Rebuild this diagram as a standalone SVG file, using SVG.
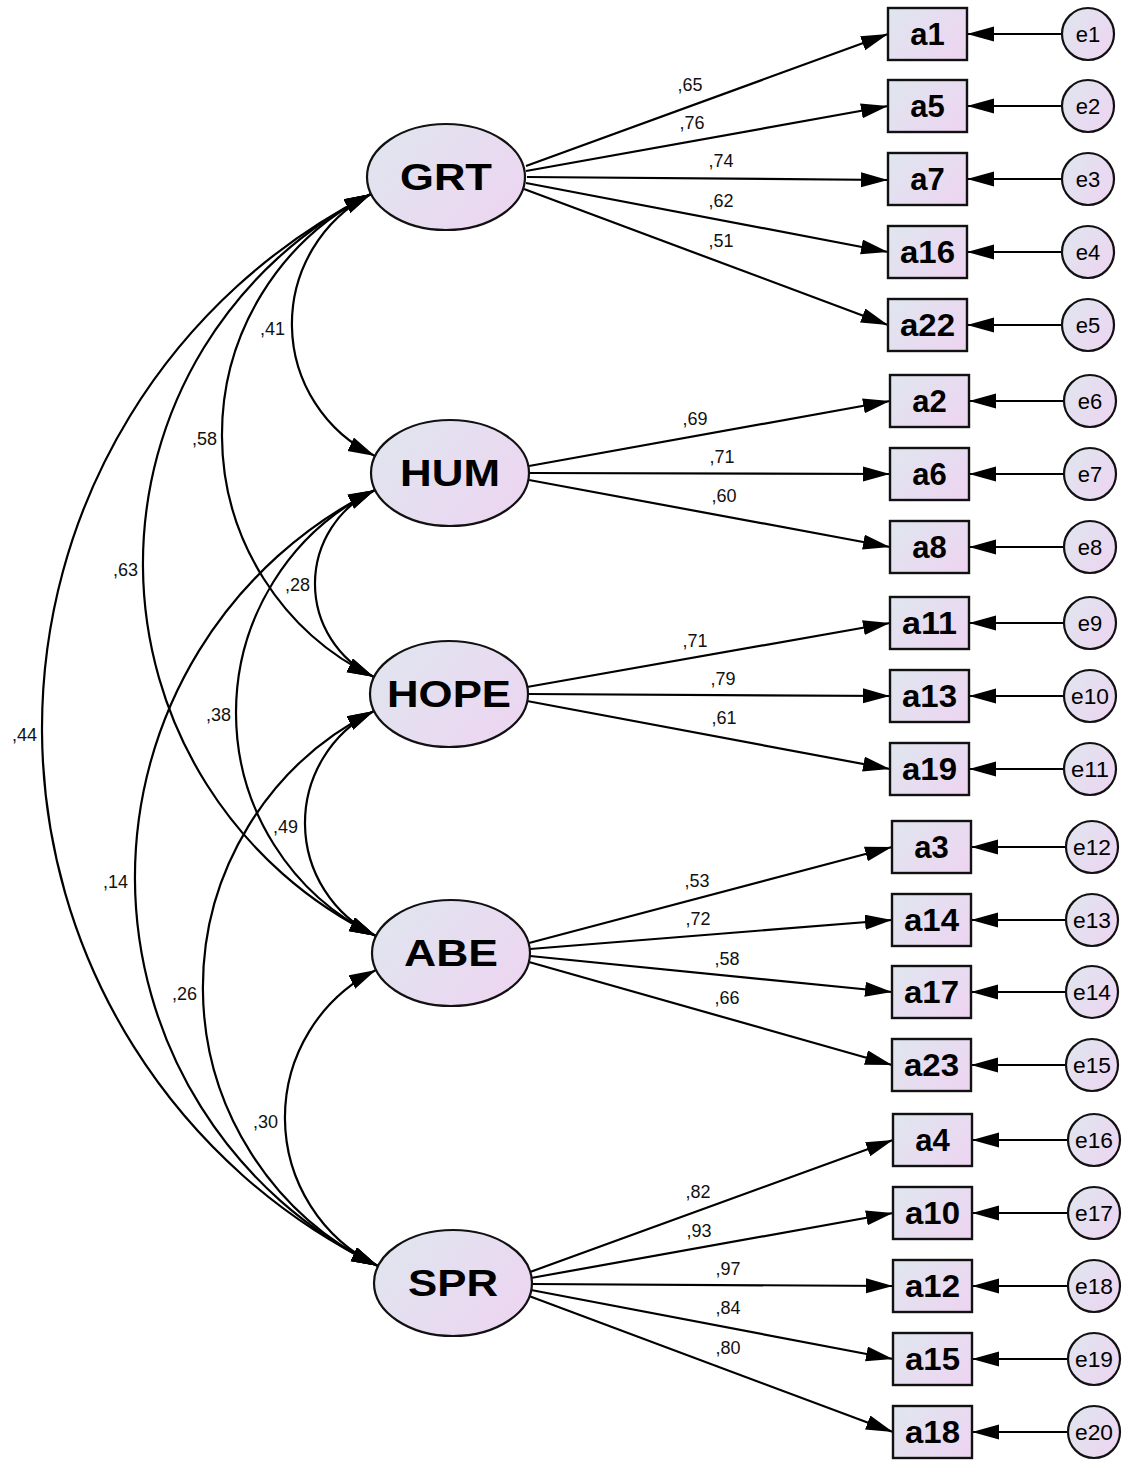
<svg xmlns="http://www.w3.org/2000/svg" width="1127" height="1461" viewBox="0 0 1127 1461">
<defs>
<linearGradient id="fillG" x1="0" y1="0.2" x2="1" y2="0.8">
<stop offset="0" stop-color="#e0e5ef"/>
<stop offset="1" stop-color="#edd5f1"/>
</linearGradient>
<marker id="ah" markerUnits="userSpaceOnUse" markerWidth="30" markerHeight="16" refX="27" refY="7.5" orient="auto-start-reverse">
<path d="M0,0 L27,7.5 L0,15 z" fill="#000"/>
</marker>
</defs>
<style>
.lat{fill:url(#fillG);stroke:#111;stroke-width:2.2}
.obs{fill:url(#fillG);stroke:#111;stroke-width:2.4}
.err{fill:url(#fillG);stroke:#111;stroke-width:2.2}
.lt{font-family:"Liberation Sans",Arial,sans-serif;font-weight:bold;font-size:36px;text-anchor:middle;fill:#000}
.ot{font-family:"Liberation Sans",Arial,sans-serif;font-weight:bold;font-size:31px;text-anchor:middle;fill:#000}
.et{font-family:"Liberation Sans",Arial,sans-serif;font-size:22px;text-anchor:middle;fill:#000}
.cl{font-family:"Liberation Sans",Arial,sans-serif;font-size:18px;fill:#111}
.cm{text-anchor:middle}
.ce{text-anchor:end}
.ln{fill:none;stroke:#000;stroke-width:2.2;marker-end:url(#ah)}
.cv{fill:none;stroke:#000;stroke-width:2.2;marker-start:url(#ah);marker-end:url(#ah)}
</style>
<rect width="1127" height="1461" fill="#fff"/>

<g id="connectors">
<path class="cv" d="M371,194 A146.4,146.4 0 0 0 375,456"/>
<path class="cv" d="M371,194 A269,269 0 0 0 374,677"/>
<path class="cv" d="M371,194 A413.8,413.8 0 0 0 376,936"/>
<path class="cv" d="M371,194 A598.3,598.3 0 0 0 378,1266"/>
<path class="cv" d="M375,490 A103.2,103.2 0 0 0 374,677"/>
<path class="cv" d="M375,490 A248,248 0 0 0 376,936"/>
<path class="cv" d="M375,490 A432.4,432.4 0 0 0 378,1266"/>
<path class="cv" d="M374,711 A125.4,125.4 0 0 0 376,936"/>
<path class="cv" d="M374,711 A309,309 0 0 0 378,1266"/>
<path class="cv" d="M376,970 A165,165 0 0 0 378,1266"/>
<path class="ln" d="M526,166 L888,34"/>
<path class="ln" d="M526,171 L888,106"/>
<path class="ln" d="M527,177 L888,180"/>
<path class="ln" d="M526,183 L888,252"/>
<path class="ln" d="M524,189 L888,325"/>
<path class="ln" d="M529,466 L890,401"/>
<path class="ln" d="M530,473 L890,474"/>
<path class="ln" d="M529,480 L890,547"/>
<path class="ln" d="M527,687 L890,623"/>
<path class="ln" d="M528,694 L890,696"/>
<path class="ln" d="M527,701 L890,769"/>
<path class="ln" d="M529,943 L892,847"/>
<path class="ln" d="M530,949 L892,920"/>
<path class="ln" d="M530,956 L892,992"/>
<path class="ln" d="M529,962 L892,1065"/>
<path class="ln" d="M530,1272 L893,1140"/>
<path class="ln" d="M531,1278 L893,1213"/>
<path class="ln" d="M532,1284 L893,1286"/>
<path class="ln" d="M531,1290 L893,1359"/>
<path class="ln" d="M529,1296 L893,1432"/>
<path class="ln" d="M1062,34 L967,34"/>
<path class="ln" d="M1062,106 L967,106"/>
<path class="ln" d="M1062,179 L967,179"/>
<path class="ln" d="M1062,252 L967,252"/>
<path class="ln" d="M1062,325 L967,325"/>
<path class="ln" d="M1064,401 L969,401"/>
<path class="ln" d="M1064,474 L969,474"/>
<path class="ln" d="M1064,547 L969,547"/>
<path class="ln" d="M1064,623 L969,623"/>
<path class="ln" d="M1064,696 L969,696"/>
<path class="ln" d="M1064,769 L969,769"/>
<path class="ln" d="M1066,847 L971,847"/>
<path class="ln" d="M1066,920 L971,920"/>
<path class="ln" d="M1066,992 L971,992"/>
<path class="ln" d="M1066,1065 L971,1065"/>
<path class="ln" d="M1068,1140 L972,1140"/>
<path class="ln" d="M1068,1213 L972,1213"/>
<path class="ln" d="M1068,1286 L972,1286"/>
<path class="ln" d="M1068,1359 L972,1359"/>
<path class="ln" d="M1068,1432 L972,1432"/>
</g>

<g id="covariance-labels" class="cl">
<text class="ce" x="285" y="335">,41</text>
<text class="ce" x="217" y="445">,58</text>
<text class="ce" x="138" y="576">,63</text>
<text class="ce" x="37" y="741">,44</text>
<text class="ce" x="310" y="591">,28</text>
<text class="ce" x="231" y="721">,38</text>
<text class="ce" x="128" y="888">,14</text>
<text class="ce" x="197" y="1000">,26</text>
<text class="ce" x="298" y="833">,49</text>
<text class="ce" x="278" y="1128">,30</text>
</g>

<g id="loading-labels" class="cl">
<text class="cm" x="690" y="91">,65</text>
<text class="cm" x="692" y="129">,76</text>
<text class="cm" x="721" y="167">,74</text>
<text class="cm" x="721" y="207">,62</text>
<text class="cm" x="721" y="247">,51</text>
<text class="cm" x="695" y="425">,69</text>
<text class="cm" x="722" y="463">,71</text>
<text class="cm" x="724" y="502">,60</text>
<text class="cm" x="695" y="647">,71</text>
<text class="cm" x="723" y="685">,79</text>
<text class="cm" x="724" y="724">,61</text>
<text class="cm" x="697" y="887">,53</text>
<text class="cm" x="698" y="925">,72</text>
<text class="cm" x="727" y="965">,58</text>
<text class="cm" x="727" y="1004">,66</text>
<text class="cm" x="698" y="1198">,82</text>
<text class="cm" x="699" y="1237">,93</text>
<text class="cm" x="728" y="1275">,97</text>
<text class="cm" x="728" y="1314">,84</text>
<text class="cm" x="728" y="1354">,80</text>
</g>

<g id="GRT"><ellipse class="lat" cx="446" cy="177" rx="79" ry="53"/><text class="lt" x="446" y="190" textLength="92" lengthAdjust="spacingAndGlyphs">GRT</text></g>
<g id="HUM"><ellipse class="lat" cx="450" cy="473" rx="79" ry="53"/><text class="lt" x="450" y="486" textLength="100" lengthAdjust="spacingAndGlyphs">HUM</text></g>
<g id="HOPE"><ellipse class="lat" cx="449" cy="694" rx="79" ry="53"/><text class="lt" x="449" y="707" textLength="124" lengthAdjust="spacingAndGlyphs">HOPE</text></g>
<g id="ABE"><ellipse class="lat" cx="451" cy="953" rx="79" ry="53"/><text class="lt" x="451" y="966" textLength="94" lengthAdjust="spacingAndGlyphs">ABE</text></g>
<g id="SPR"><ellipse class="lat" cx="453" cy="1283" rx="79" ry="53"/><text class="lt" x="453" y="1296" textLength="90" lengthAdjust="spacingAndGlyphs">SPR</text></g>

<g id="a1"><rect class="obs" x="888" y="8" width="79" height="52"/><text class="ot" x="927.5" y="45">a1</text></g>
<g id="a5"><rect class="obs" x="888" y="80" width="79" height="52"/><text class="ot" x="927.5" y="117">a5</text></g>
<g id="a7"><rect class="obs" x="888" y="153" width="79" height="52"/><text class="ot" x="927.5" y="190">a7</text></g>
<g id="a16"><rect class="obs" x="888" y="226" width="79" height="52"/><text class="ot" x="927.5" y="263" textLength="55" lengthAdjust="spacingAndGlyphs">a16</text></g>
<g id="a22"><rect class="obs" x="888" y="299" width="79" height="52"/><text class="ot" x="927.5" y="336" textLength="55" lengthAdjust="spacingAndGlyphs">a22</text></g>
<g id="a2"><rect class="obs" x="890" y="375" width="79" height="52"/><text class="ot" x="929.5" y="412">a2</text></g>
<g id="a6"><rect class="obs" x="890" y="448" width="79" height="52"/><text class="ot" x="929.5" y="485">a6</text></g>
<g id="a8"><rect class="obs" x="890" y="521" width="79" height="52"/><text class="ot" x="929.5" y="558">a8</text></g>
<g id="a11"><rect class="obs" x="890" y="597" width="79" height="52"/><text class="ot" x="929.5" y="634" textLength="55" lengthAdjust="spacingAndGlyphs">a11</text></g>
<g id="a13"><rect class="obs" x="890" y="670" width="79" height="52"/><text class="ot" x="929.5" y="707" textLength="55" lengthAdjust="spacingAndGlyphs">a13</text></g>
<g id="a19"><rect class="obs" x="890" y="743" width="79" height="52"/><text class="ot" x="929.5" y="780" textLength="55" lengthAdjust="spacingAndGlyphs">a19</text></g>
<g id="a3"><rect class="obs" x="892" y="821" width="79" height="52"/><text class="ot" x="931.5" y="858">a3</text></g>
<g id="a14"><rect class="obs" x="892" y="894" width="79" height="52"/><text class="ot" x="931.5" y="931" textLength="55" lengthAdjust="spacingAndGlyphs">a14</text></g>
<g id="a17"><rect class="obs" x="892" y="966" width="79" height="52"/><text class="ot" x="931.5" y="1003" textLength="55" lengthAdjust="spacingAndGlyphs">a17</text></g>
<g id="a23"><rect class="obs" x="892" y="1039" width="79" height="52"/><text class="ot" x="931.5" y="1076" textLength="55" lengthAdjust="spacingAndGlyphs">a23</text></g>
<g id="a4"><rect class="obs" x="893" y="1114" width="79" height="52"/><text class="ot" x="932.5" y="1151">a4</text></g>
<g id="a10"><rect class="obs" x="893" y="1187" width="79" height="52"/><text class="ot" x="932.5" y="1224" textLength="55" lengthAdjust="spacingAndGlyphs">a10</text></g>
<g id="a12"><rect class="obs" x="893" y="1260" width="79" height="52"/><text class="ot" x="932.5" y="1297" textLength="55" lengthAdjust="spacingAndGlyphs">a12</text></g>
<g id="a15"><rect class="obs" x="893" y="1333" width="79" height="52"/><text class="ot" x="932.5" y="1370" textLength="55" lengthAdjust="spacingAndGlyphs">a15</text></g>
<g id="a18"><rect class="obs" x="893" y="1406" width="79" height="52"/><text class="ot" x="932.5" y="1443" textLength="55" lengthAdjust="spacingAndGlyphs">a18</text></g>

<g id="e1"><circle class="err" cx="1088" cy="34" r="26"/><text class="et" x="1088" y="42">e1</text></g>
<g id="e2"><circle class="err" cx="1088" cy="106" r="26"/><text class="et" x="1088" y="114">e2</text></g>
<g id="e3"><circle class="err" cx="1088" cy="179" r="26"/><text class="et" x="1088" y="187">e3</text></g>
<g id="e4"><circle class="err" cx="1088" cy="252" r="26"/><text class="et" x="1088" y="260">e4</text></g>
<g id="e5"><circle class="err" cx="1088" cy="325" r="26"/><text class="et" x="1088" y="333">e5</text></g>
<g id="e6"><circle class="err" cx="1090" cy="401" r="26"/><text class="et" x="1090" y="409">e6</text></g>
<g id="e7"><circle class="err" cx="1090" cy="474" r="26"/><text class="et" x="1090" y="482">e7</text></g>
<g id="e8"><circle class="err" cx="1090" cy="547" r="26"/><text class="et" x="1090" y="555">e8</text></g>
<g id="e9"><circle class="err" cx="1090" cy="623" r="26"/><text class="et" x="1090" y="631">e9</text></g>
<g id="e10"><circle class="err" cx="1090" cy="696" r="26"/><text class="et" x="1090" y="704" textLength="38" lengthAdjust="spacingAndGlyphs">e10</text></g>
<g id="e11"><circle class="err" cx="1090" cy="769" r="26"/><text class="et" x="1090" y="777" textLength="38" lengthAdjust="spacingAndGlyphs">e11</text></g>
<g id="e12"><circle class="err" cx="1092" cy="847" r="26"/><text class="et" x="1092" y="855" textLength="38" lengthAdjust="spacingAndGlyphs">e12</text></g>
<g id="e13"><circle class="err" cx="1092" cy="920" r="26"/><text class="et" x="1092" y="928" textLength="38" lengthAdjust="spacingAndGlyphs">e13</text></g>
<g id="e14"><circle class="err" cx="1092" cy="992" r="26"/><text class="et" x="1092" y="1000" textLength="38" lengthAdjust="spacingAndGlyphs">e14</text></g>
<g id="e15"><circle class="err" cx="1092" cy="1065" r="26"/><text class="et" x="1092" y="1073" textLength="38" lengthAdjust="spacingAndGlyphs">e15</text></g>
<g id="e16"><circle class="err" cx="1094" cy="1140" r="26"/><text class="et" x="1094" y="1148" textLength="38" lengthAdjust="spacingAndGlyphs">e16</text></g>
<g id="e17"><circle class="err" cx="1094" cy="1213" r="26"/><text class="et" x="1094" y="1221" textLength="38" lengthAdjust="spacingAndGlyphs">e17</text></g>
<g id="e18"><circle class="err" cx="1094" cy="1286" r="26"/><text class="et" x="1094" y="1294" textLength="38" lengthAdjust="spacingAndGlyphs">e18</text></g>
<g id="e19"><circle class="err" cx="1094" cy="1359" r="26"/><text class="et" x="1094" y="1367" textLength="38" lengthAdjust="spacingAndGlyphs">e19</text></g>
<g id="e20"><circle class="err" cx="1094" cy="1432" r="26"/><text class="et" x="1094" y="1440" textLength="38" lengthAdjust="spacingAndGlyphs">e20</text></g>
</svg>
